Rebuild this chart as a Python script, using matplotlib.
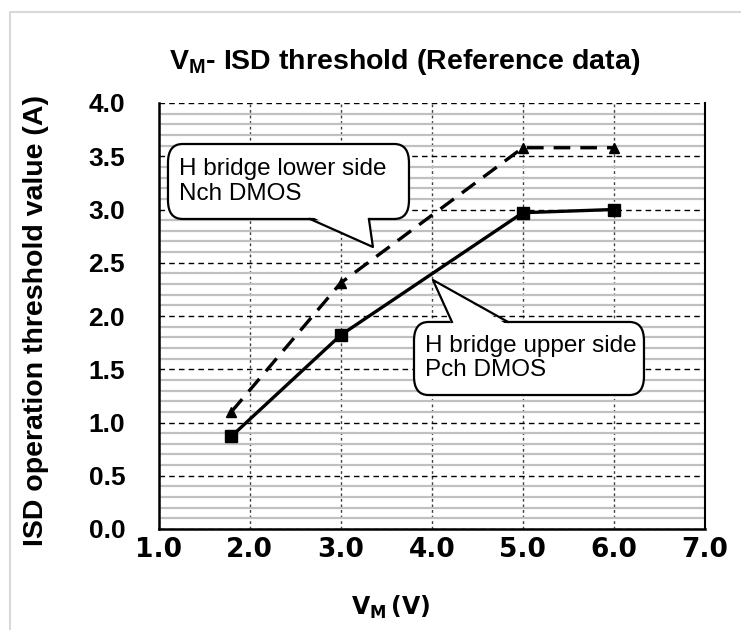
import numpy as np
import matplotlib
matplotlib.use("Agg")
import matplotlib.pyplot as plt
from matplotlib.patches import FancyBboxPatch, Polygon
from matplotlib.lines import Line2D

plt.rcParams["font.family"] = ["Liberation Sans", "DejaVu Sans"]
plt.rcParams["mathtext.fontset"] = "custom"
plt.rcParams["mathtext.bf"] = "Liberation Sans:bold"
plt.rcParams["mathtext.sf"] = "DejaVu Sans:bold"

# Data
vm = [1.8, 3.0, 5.0, 6.0]
nch_lower = [1.10, 2.31, 3.58, 3.58]    # dashed, triangles
pch_upper = [0.87, 1.82, 2.97, 3.00]    # solid, squares
x_ticks = [1.0, 2.0, 3.0, 4.0, 5.0, 6.0, 7.0]
y_ticks = [0.0, 0.5, 1.0, 1.5, 2.0, 2.5, 3.0, 3.5, 4.0]
title = r"$\mathbf{V_M}$- ISD threshold (Reference data)"
xlabel = r"$\mathsf{V_M}\,$(V)"
ylabel = "ISD operation threshold value (A)"
note_lower = "H bridge lower side\nNch DMOS"
note_upper = "H bridge upper side\nPch DMOS"

W, H = 741, 630
fig = plt.figure(figsize=(W / 100, H / 100), dpi=100)
ax = fig.add_axes([158.5 / W, 1 - 529 / H, (705 - 158.5) / W, (529 - 103) / H])

ax.set_xlim(1.0, 7.0)
ax.set_ylim(0.0, 4.0)

# Grid: light minor lines every 0.1, dashed majors
ax.set_yticks(np.arange(0, 4.01, 0.1), minor=True)
ax.set_xticks(x_ticks)
ax.set_yticks(y_ticks)
ax.grid(which="minor", axis="y", color="#c0c0c0", lw=1.6, ls="-")
ax.grid(which="major", axis="y", color="black", lw=1.0, ls=(0, (4, 3)))
ax.grid(which="major", axis="x", color="#404040", lw=1.0, ls=(0, (2, 2)))
ax.set_axisbelow(True)

ax.set_xticklabels([f"{v:.1f}" for v in x_ticks], family="DejaVu Sans",
                   fontweight="bold", fontsize=19)
ax.set_yticklabels([f"{v:.1f}" for v in y_ticks], fontweight="bold", fontsize=19)
ax.tick_params(which="both", length=0)
ax.tick_params(axis="y", pad=24)
ax.tick_params(axis="x", pad=6)

ax.spines["top"].set_visible(False)
ax.spines["left"].set_linewidth(1.8)
ax.spines["bottom"].set_linewidth(1.8)
ax.spines["right"].set_linewidth(1.5)

ax.plot(vm, nch_lower, color="black", lw=2.4, ls=(0, (5, 3)),
        marker="^", ms=7, zorder=4)
ax.plot(vm, pch_upper, color="black", lw=2.4, ls="-",
        marker="s", ms=8, zorder=4)


def bubble(x0, y0, x1, y1, base, tip, on_top):
    box = FancyBboxPatch((x0, y0), x1 - x0, y1 - y0,
                         boxstyle="round,pad=0,rounding_size=0.16",
                         mutation_aspect=1.1,
                         facecolor="white", edgecolor="black", lw=1.6, zorder=6)
    ax.add_patch(box)
    yb = y1 if on_top else y0
    inset = -0.03 if on_top else 0.03
    ax.add_patch(Polygon([(base[0], yb + inset), tip, (base[1], yb + inset)],
                         closed=True, facecolor="white", edgecolor="none",
                         zorder=7))
    ax.add_line(Line2D([base[0], tip[0], base[1]], [yb, tip[1], yb],
                       color="black", lw=1.6, zorder=8))


bubble(1.104, 2.911, 3.75, 3.615, (2.663, 3.31), (3.354, 2.648), False)
bubble(3.805, 1.258, 6.33, 1.944, (4.222, 4.837), (4.013, 2.338), True)
ax.text(1.225, 3.263, note_lower, fontsize=17.5, va="center", ha="left",
        zorder=9, linespacing=1.15)
ax.text(3.925, 1.606, note_upper, fontsize=17.5, va="center", ha="left",
        zorder=9, linespacing=1.15)

fig.text(405 / W, 1 - 62 / H, title, fontsize=20.5, fontweight="bold",
         ha="center", va="center")
fig.text(391 / W, 1 - 607 / H, xlabel, fontsize=17, family="DejaVu Sans",
         fontweight="bold", ha="center", va="center")
fig.text(36 / W, 1 - 320 / H, ylabel, fontsize=20.5, fontweight="bold",
         rotation=90, ha="center", va="center")

# light frame around the chart area
fig.add_artist(Line2D([10 / W, 10 / W, 1.01], [-0.01, 1 - 12 / H, 1 - 12 / H],
                      transform=fig.transFigure, color="#d9d9d9", lw=1.5))

fig.savefig("out.png", dpi=100)
